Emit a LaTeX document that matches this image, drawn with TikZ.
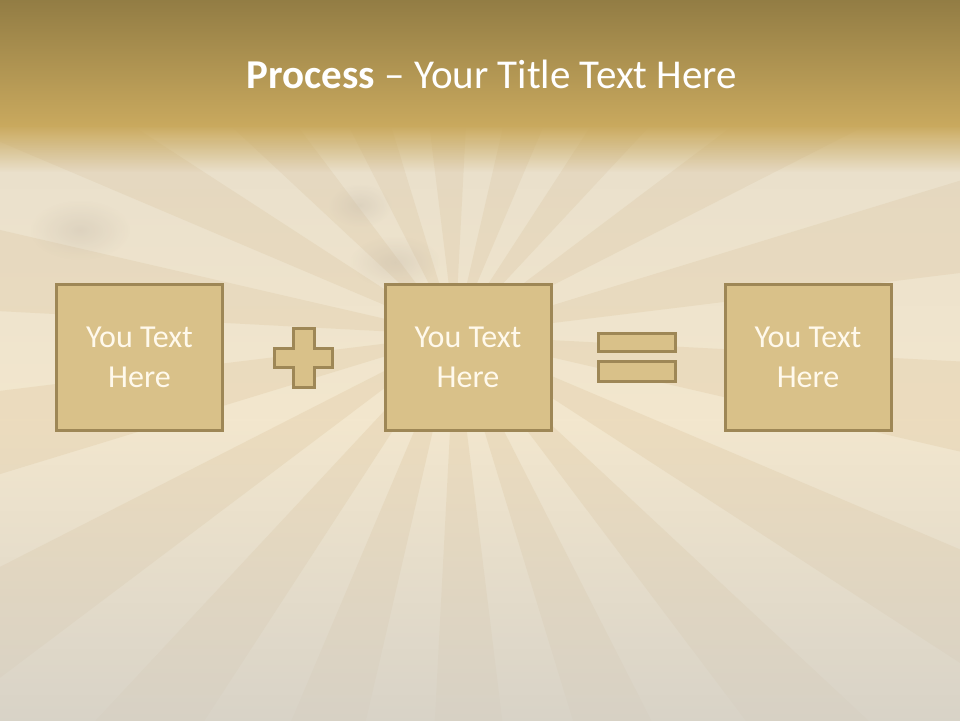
\documentclass[tikz,border=0pt]{standalone}
\usepackage{fontspec}
\setmainfont{Carlito}
\usetikzlibrary{fadings}
\definecolor{hdrtop}{HTML}{8E7942}
\definecolor{hdrbot}{HTML}{C9A95E}
\definecolor{paper}{HTML}{F3E7CE}
\definecolor{ray}{HTML}{DCC59A}
\definecolor{fog}{HTML}{D3CFC6}
\definecolor{stain}{HTML}{BFB2A0}
\definecolor{boxfill}{HTML}{D9C189}
\definecolor{boxline}{HTML}{9E8756}
\definecolor{txt}{HTML}{FFF9EC}
\tikzfading[name=fadedown, top color=transparent!0, bottom color=transparent!100]
\tikzfading[name=fadeup, top color=transparent!100, bottom color=transparent!15]
\tikzfading[name=blob, inner color=transparent!0, outer color=transparent!100]
\tikzset{
  tbox/.style={draw=boxline, fill=boxfill, line width=3pt, minimum width=166pt, minimum height=146pt,
    inner sep=0pt, align=center, text=txt, font=\fontsize{32}{40}\selectfont},
  sym/.style={draw=boxline, fill=boxfill, line width=3pt},
  stainblob/.style={fill=stain, opacity=0.35, path fading=blob},
}
\begin{document}
\begin{tikzpicture}[x=1pt,y=-1pt]
\useasboundingbox (0,0) rectangle (960,720);
\begin{scope}
\clip (0,0) rectangle (960,720);
% paper background
\fill[paper] (-10,-10) rectangle (970,730);
% sunburst rays
\foreach \i in {0,...,17}{
  \fill[ray, opacity=0.3] (455,335) -- ++({\i*20+3}:1400) arc[start angle={\i*20+3}, end angle={\i*20+13}, radius=1400] -- cycle;
}
% soft stains
\fill[stainblob] (395,262) ellipse[x radius=45, y radius=26];
\fill[stainblob] (360,205) ellipse[x radius=32, y radius=22];
\fill[stainblob] (455,300) ellipse[x radius=26, y radius=18];
\fill[stainblob] (80,230) ellipse[x radius=50, y radius=30];
% fog towards bottom and sides
\fill[fog, path fading=fadeup] (-10,420) rectangle (970,730);
\fill[fog, opacity=0.3, path fading=fadedown] (-10,140) rectangle (970,420);
% header
\shade[top color=hdrtop, bottom color=hdrbot] (-10,-10) rectangle (970,126);
\fill[hdrbot, path fading=fadedown] (-10,125) rectangle (970,172);
\end{scope}
\node[anchor=base, text=white, font=\fontsize{41}{48}\selectfont] (title) at (492,88)
  {\textbf{Process} – Your Title Text Here};
% boxes
\node[tbox] (b1) at (139.5,357.5) {You Text\\Here};
\node[tbox] (b2) at (468,357.5) {You Text\\Here};
\node[tbox] (b3) at (808,357.5) {You Text\\Here};
% plus sign
\draw[sym] (293.5,328.5) -- (314.5,328.5) -- (314.5,348.5) -- (332.5,348.5) -- (332.5,367.5)
  -- (314.5,367.5) -- (314.5,387.5) -- (293.5,387.5) -- (293.5,367.5) -- (274.5,367.5)
  -- (274.5,348.5) -- (293.5,348.5) -- cycle;
% equals sign
\draw[sym] (598.5,333.5) rectangle (675.5,351.5);
\draw[sym] (598.5,361.5) rectangle (675.5,381.5);
\end{tikzpicture}
\end{document}
